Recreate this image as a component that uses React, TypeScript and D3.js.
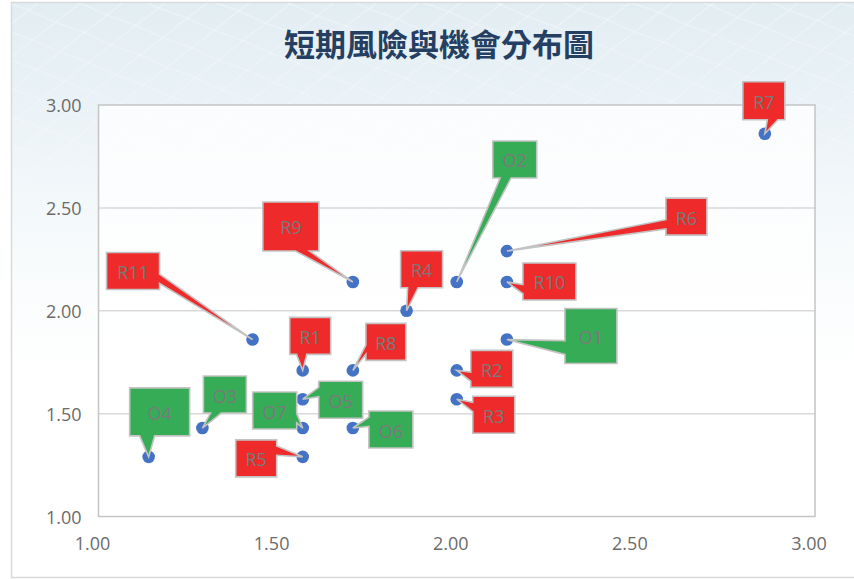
import * as d3 from "d3";

// 短期風險 (R) 與機會 (O) 的座標值
const riskNames = ["R1", "R2", "R3", "R4", "R5", "R6", "R7", "R8", "R9", "R10", "R11"];
const riskX = [1.57, 2.0, 2.0, 1.86, 1.57, 2.14, 2.86, 1.71, 1.71, 2.14, 1.43];
const riskY = [1.71, 1.71, 1.57, 2.0, 1.29, 2.29, 2.86, 1.71, 2.14, 2.14, 1.86];

const oppNames = ["O1", "O2", "O3", "O4", "O5", "O6", "O7"];
const oppX = [2.14, 2.0, 1.29, 1.14, 1.57, 1.71, 1.57];
const oppY = [1.86, 2.14, 1.43, 1.29, 1.57, 1.43, 1.43];

const xTicks = [1.0, 1.5, 2.0, 2.5, 3.0];
const yTicks = [1.0, 1.5, 2.0, 2.5, 3.0];

// callout box placement relative to its point: [dx, dy, w, h] (px)
const riskBoxes = [
  [-13, -53, 41, 37],
  [14, -20, 42, 37],
  [16, -3, 42, 37],
  [-6, -60, 42, 37],
  [-67, -17, 41, 37],
  [159, -53, 41, 37],
  [-22, -52, 42, 38],
  [13, -47, 40, 37],
  [-90, -80, 56, 49],
  [16, -19, 53, 37],
  [-146, -87, 53, 37],
];
const oppBoxes = [
  [58, -31, 52, 55],
  [36, -141, 44, 37],
  [1, -52, 43, 37],
  [-19, -69, 60, 48],
  [16, -18, 44, 37],
  [16, -17, 44, 37],
  [-50, -36, 44, 37],
];

const W = 854;
const H = 579;
const plot = { left: 98.5, right: 815, top: 105, bottom: 516.5 };

// Excel style wedgeRectCallout outline
function calloutPath(x: number, y: number, w: number, h: number, tx: number, ty: number) {
  const dxp = tx - (x + w / 2);
  const dyp = ty - (y + h / 2);
  const horiz = Math.abs(dxp * h) > Math.abs(dyp * w);
  const y1 = y + (h * (dyp > 0 ? 7 : 2)) / 12;
  const y2 = y + (h * (dyp > 0 ? 10 : 5)) / 12;
  const x1 = x + (w * (dxp > 0 ? 7 : 2)) / 12;
  const x2 = x + (w * (dxp > 0 ? 10 : 5)) / 12;
  const p = d3.path();
  p.moveTo(x, y);
  if (!horiz && dyp < 0) {
    p.lineTo(x1, y);
    p.lineTo(tx, ty);
    p.lineTo(x2, y);
  }
  p.lineTo(x + w, y);
  if (horiz && dxp > 0) {
    p.lineTo(x + w, y1);
    p.lineTo(tx, ty);
    p.lineTo(x + w, y2);
  }
  p.lineTo(x + w, y + h);
  if (!horiz && dyp > 0) {
    p.lineTo(x2, y + h);
    p.lineTo(tx, ty);
    p.lineTo(x1, y + h);
  }
  p.lineTo(x, y + h);
  if (horiz && dxp < 0) {
    p.lineTo(x, y2);
    p.lineTo(tx, ty);
    p.lineTo(x, y1);
  }
  p.closePath();
  return p.toString();
}

export default function App() {
  const x = d3.scaleLinear().domain([1, 3]).range([plot.left, plot.right]);
  const y = d3.scaleLinear().domain([1, 3]).range([plot.bottom, plot.top]);
  const fmt = d3.format(".2f");

  const points = [
    ...riskNames.map((n, i) => ({ name: n, x: riskX[i], y: riskY[i], box: riskBoxes[i], fill: "#ee2a2a" })),
    ...oppNames.map((n, i) => ({ name: n, x: oppX[i], y: oppY[i], box: oppBoxes[i], fill: "#37ac57" })),
  ];

  const axisFont = "'Open Sans', 'Noto Sans', sans-serif";

  return (
    <svg width={W} height={H} style={{ position: "absolute", left: 0, top: 0 }}>
      <defs>
        <linearGradient id="bg" x1="0" y1="0" x2="0" y2="1">
          <stop offset="0" stopColor="#e2edf3" />
          <stop offset="0.2" stopColor="#ebf3f7" />
          <stop offset="0.45" stopColor="#f8fbfc" />
          <stop offset="0.65" stopColor="#ffffff" />
        </linearGradient>
        <pattern id="mesh" width="52" height="30" patternUnits="userSpaceOnUse" patternTransform="rotate(-8)">
          <path d="M0,0 Q26,12 52,30 M0,30 Q26,14 52,0" fill="none" stroke="#ffffff" strokeWidth="1" />
        </pattern>
        <linearGradient id="fadeGrad" x1="0" y1="0" x2="0" y2="1">
          <stop offset="0" stopColor="#fff" stopOpacity="0.55" />
          <stop offset="0.35" stopColor="#fff" stopOpacity="0.2" />
          <stop offset="0.55" stopColor="#fff" stopOpacity="0" />
        </linearGradient>
        <mask id="fade">
          <rect x={0} y={0} width={W} height={H} fill="url(#fadeGrad)" />
        </mask>
      </defs>

      <rect x={0} y={0} width={W} height={H} fill="#ffffff" />
      <rect x={11.5} y={2.5} width={W} height={575} fill="url(#bg)" stroke="#d9d9d9" strokeWidth={1.5} />
      <rect x={12} y={3} width={W} height={574} fill="url(#mesh)" mask="url(#fade)" />

      <text
        x={439}
        y={42.5}
        textAnchor="middle"
        dominantBaseline="central"
        fontFamily="'Noto Sans CJK TC', 'Noto Sans CJK SC', sans-serif"
        fontWeight={700}
        fontSize={31}
        fill="#253f62"
      >
        短期風險與機會分布圖
      </text>

      <rect
        x={plot.left}
        y={plot.top}
        width={plot.right - plot.left}
        height={plot.bottom - plot.top}
        fill="#ffffff"
        fillOpacity={0.75}
      />
      {yTicks.slice(1, -1).map((t) => (
        <line key={t} x1={plot.left} x2={plot.right} y1={y(t)} y2={y(t)} stroke="#d9d9d9" strokeWidth={1.5} />
      ))}
      <rect
        x={plot.left}
        y={plot.top}
        width={plot.right - plot.left}
        height={plot.bottom - plot.top}
        fill="none"
        stroke="#c4c4c4"
        strokeWidth={1.5}
      />

      {yTicks.map((t) => (
        <text
          key={t}
          x={plot.left - 17}
          y={y(t)}
          textAnchor="end"
          dominantBaseline="central"
          fontFamily={axisFont}
          fontSize={18}
          fill="#6b6b6b"
        >
          {fmt(t)}
        </text>
      ))}
      {xTicks.map((t) => (
        <text
          key={t}
          x={x(t) - 6}
          y={543}
          textAnchor="middle"
          dominantBaseline="central"
          fontFamily={axisFont}
          fontSize={18}
          fill="#6b6b6b"
        >
          {fmt(t)}
        </text>
      ))}

      {points.map((p) => (
        <circle key={p.name} cx={x(p.x)} cy={y(p.y)} r={6.3} fill="#4472c4" />
      ))}

      {points.map((p) => {
        const px = x(p.x);
        const py = y(p.y);
        const [dx, dy, w, h] = p.box;
        const bx = px + dx;
        const by = py + dy;
        return (
          <g key={p.name}>
            <path
              d={calloutPath(bx, by, w, h, px, py)}
              fill={p.fill}
              stroke="#c3c3c3"
              strokeWidth={1.6}
              strokeLinejoin="miter"
            />
            <text
              x={bx + w / 2}
              y={by + h / 2 + 1}
              textAnchor="middle"
              dominantBaseline="central"
              fontFamily={axisFont}
              fontSize={18}
              fill="#7a7a7a"
            >
              {p.name}
            </text>
          </g>
        );
      })}
    </svg>
  );
}
